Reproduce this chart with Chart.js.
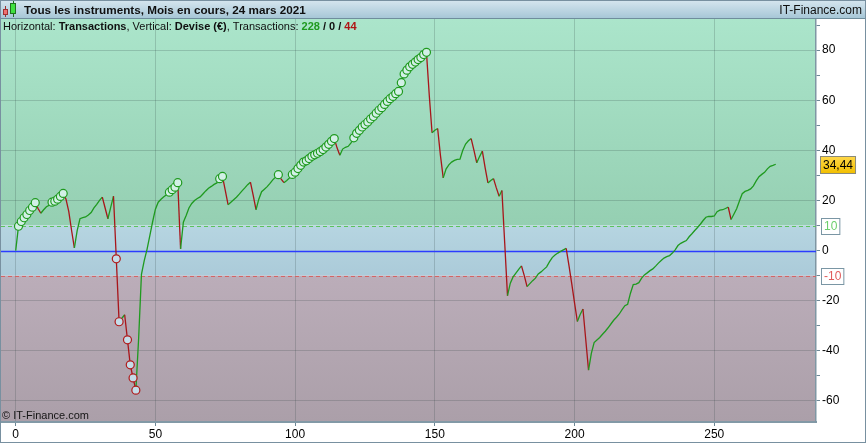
<!DOCTYPE html>
<html>
<head>
<meta charset="utf-8">
<script src="https://cdn.jsdelivr.net/npm/chart.js@4.4.1/dist/chart.umd.min.js"></script>
<style>
  html, body { margin: 0; padding: 0; background: #fff; overflow: hidden; }
  canvas { display: block; }
</style>
</head>
<body>
<canvas id="myChart" width="866" height="443"></canvas>
<script>
// DATA
// equity curve, one value per transaction (index = transaction number)
const equity = [
  0, 9.7, 11.6, 13.1, 14.4, 16, 17.3, 19.1, 16.8, 14.9,
  16.3, 17.5, 18.1, 19.3, 19.7, 20.5, 21.6, 22.8, 20.5, 15.5,
  8, 1.1, 8, 12.7, 13.1, 13.4, 14.2, 15.2, 17, 18.4,
  20, 21.3, 17, 12.7, 17.2, 21.7, -3.3, -28.4, -27, -25.6,
  -35.6, -45.6, -50.8, -55.7, -35, -9.5, -4, 0.5, 6, 11.5,
  16.5, 19.3, 20.5, 21.5, 22.3, 23.3, 24.3, 25.3, 27.1, 0.7,
  11.3, 14, 17, 18.8, 20, 20.8, 21.4, 22.6, 23.8, 24.9,
  25.6, 26.4, 27, 28.7, 29.6, 24, 18.3, 19.3, 20.3, 21.3,
  22.5, 23.8, 25, 26.3, 27.3, 22, 16.3, 20.5, 23.5, 24.5,
  25.5, 26.8, 28.2, 29.3, 30.3, 28.5, 27.1, 28, 29, 30.4,
  31.3, 32.7, 34, 35.3, 35.8, 36.7, 37.6, 38.2, 38.8, 39.5,
  40.3, 41.3, 42.4, 43.6, 44.7, 41, 38, 40.5, 41.2, 41.6,
  43, 45, 46.8, 48, 49.3, 50.3, 51.3, 52.5, 53.5, 54.8,
  56, 57, 58.3, 59.5, 60.6, 61.5, 62.6, 63.5, 67, 70.5,
  72, 73.3, 74.3, 75.2, 76.2, 77, 78.2, 79.1, 62, 47,
  48, 48.7, 38, 29, 32.5, 34.2, 35.3, 36, 36.4, 36.5,
  40, 42.5, 43.8, 44.7, 40, 35, 37.5, 39.7, 33, 27,
  28, 28.7, 25, 21.7, 24, 3, -18, -13, -10.5, -9,
  -7.5, -6.1, -10, -14.4, -13.2, -12, -11, -9.3, -8.5, -7.5,
  -6.5, -4.5, -2.8, -1.8, -1, -0.3, 0.3, 0.9, -6, -13.3,
  -21, -28.3, -25.5, -23.3, -35.5, -47.7, -41, -36.7, -35.7, -34.7,
  -33.4, -32.2, -30.8, -29.3, -27.8, -26.6, -25.3, -23.6, -22, -21.4,
  -17, -13.6, -13.4, -12.8, -11, -9.7, -8.9, -8, -7.3, -6.2,
  -5, -4, -3, -2.4, -2, -1, 0.3, 2, 2.9, 3.5,
  4, 5.5, 6.7, 8, 9.2, 10.5, 12, 13.3, 13.6, 13.6,
  13.8, 15.5, 16.1, 16.3, 16.8, 17.3, 12.4, 14.5, 16.7, 19.8,
  22.7, 23.6, 24, 24.6, 25.8, 27.8, 29.5, 30.4, 31.2, 32.6,
  33.6, 34, 34.44
];
const xTicks = [0, 50, 100, 150, 200, 250];
const yTicks = [-60, -50, -40, -30, -20, -10, 0, 10, 20, 30, 40, 50, 60, 70, 80, 90];
const yLabels = [80, 60, 40, 20, 0, -20, -40, -60];
const yGrid = [80, 60, 40, 20, -20, -40, -60];
const bandLimits = [10, -10];
const counts = [228, 0, 44];
const titleText = 'Tous les instruments, Mois en cours, 24 mars 2021';

const FONT = '"Liberation Sans", Arial, sans-serif';
const GREEN = '#1f9a1f';
const RED = '#a8151a';

// new highs / new lows get a marker
let hi = equity[0], lo = equity[0];
const markHigh = [], markLow = [];
equity.forEach(function (v, i) {
    markHigh.push(i > 0 && v > hi);
    markLow.push(i > 0 && v < lo);
    if (v > hi) hi = v;
    if (v < lo) lo = v;
});

const points = equity.map(function (v, i) { return { x: i, y: v }; });

function hline(ctx, a, y, color, dash, width) {
    ctx.save();
    ctx.strokeStyle = color;
    ctx.lineWidth = width || 1;
    ctx.setLineDash(dash || []);
    ctx.beginPath();
    ctx.moveTo(a.left, Math.round(y) + 0.5);
    ctx.lineTo(a.right, Math.round(y) + 0.5);
    ctx.stroke();
    ctx.restore();
}

function boxLabel(ctx, x, yc, text, color, fill, stroke) {
    ctx.font = '12px ' + FONT;
    const w = ctx.measureText(text).width + 5;
    const h = 16;
    const top = Math.round(yc - h / 2) + 0.5;
    ctx.fillStyle = fill;
    ctx.fillRect(x + 0.5, top, w, h);
    ctx.strokeStyle = stroke;
    ctx.lineWidth = 1;
    ctx.strokeRect(x + 0.5, top, w, h);
    ctx.fillStyle = color;
    ctx.textBaseline = 'middle';
    ctx.textAlign = 'left';
    ctx.fillText(text, x + 3, yc + 1);
}

const decorPlugin = {
    id: 'decor',
    beforeDraw(chart) {
        const ctx = chart.ctx, a = chart.chartArea, y = chart.scales.y;
        ctx.save();
        ctx.fillStyle = '#ffffff';
        ctx.fillRect(0, 0, chart.width, chart.height);

        const y10 = y.getPixelForValue(bandLimits[0]);
        const ym10 = y.getPixelForValue(bandLimits[1]);

        let g = ctx.createLinearGradient(0, a.top, 0, y10);
        g.addColorStop(0, '#abe5cb');
        g.addColorStop(1, '#95cfb2');
        ctx.fillStyle = g;
        ctx.fillRect(a.left, a.top, a.width, y10 - a.top);

        g = ctx.createLinearGradient(0, y10, 0, ym10);
        g.addColorStop(0, '#b6d5e1');
        g.addColorStop(1, '#abcbd9');
        ctx.fillStyle = g;
        ctx.fillRect(a.left, y10, a.width, ym10 - y10);

        g = ctx.createLinearGradient(0, ym10, 0, a.bottom);
        g.addColorStop(0, '#bbadb9');
        g.addColorStop(1, '#ab9fa9');
        ctx.fillStyle = g;
        ctx.fillRect(a.left, ym10, a.width, a.bottom - ym10);
        ctx.restore();
    },
    beforeDatasetsDraw(chart) {
        const ctx = chart.ctx, a = chart.chartArea, y = chart.scales.y;
        hline(ctx, a, y.getPixelForValue(bandLimits[0]), '#5cc35c', [4, 3]);
        hline(ctx, a, y.getPixelForValue(bandLimits[1]), '#d46464', [4, 3]);
        hline(ctx, a, y.getPixelForValue(0), '#2b3cff', [], 1.3);
    },
    afterDraw(chart) {
        const ctx = chart.ctx, a = chart.chartArea, y = chart.scales.y;
        ctx.save();

        // title bar
        let g = ctx.createLinearGradient(0, 0, 0, 18);
        g.addColorStop(0, '#d6e6ef');
        g.addColorStop(1, '#a7c7d7');
        ctx.fillStyle = g;
        ctx.fillRect(0, 0, chart.width, 18);
        ctx.strokeStyle = '#6f8d9c';
        ctx.lineWidth = 1;
        ctx.beginPath();
        ctx.moveTo(0, 18.5);
        ctx.lineTo(chart.width, 18.5);
        ctx.stroke();

        // little candle icon
        ctx.fillStyle = '#9a3030';
        ctx.fillRect(5, 6, 1, 11);
        ctx.fillStyle = '#f07070';
        ctx.fillRect(3, 9, 5, 6);
        ctx.strokeStyle = '#a03030';
        ctx.strokeRect(3.5, 9.5, 4, 5);
        ctx.fillStyle = '#207020';
        ctx.fillRect(13, 1, 1, 16);
        ctx.fillStyle = '#40e040';
        ctx.fillRect(10, 3, 6, 11);
        ctx.strokeStyle = '#207020';
        ctx.strokeRect(10.5, 3.5, 5, 10);

        ctx.textBaseline = 'alphabetic';
        ctx.fillStyle = '#101010';
        ctx.font = 'bold 11.7px ' + FONT;
        ctx.textAlign = 'left';
        ctx.fillText(titleText, 24, 14);
        ctx.font = '12px ' + FONT;
        ctx.textAlign = 'right';
        ctx.fillText('IT-Finance.com', 862, 14);

        // subtitle line
        const parts = [
            ['Horizontal: ', false, '#101010'],
            ['Transactions', true, '#101010'],
            [', Vertical: ', false, '#101010'],
            ['Devise (\u20ac)', true, '#101010'],
            [', Transactions: ', false, '#101010'],
            [String(counts[0]), true, GREEN],
            [' / ', true, '#101010'],
            [String(counts[1]), true, '#101010'],
            [' / ', true, '#101010'],
            [String(counts[2]), true, '#b01414']
        ];
        let x = 3;
        ctx.textAlign = 'left';
        parts.forEach(function (p) {
            ctx.font = (p[1] ? 'bold ' : '') + '11px ' + FONT;
            ctx.fillStyle = p[2];
            ctx.fillText(p[0], x, 30);
            x += ctx.measureText(p[0]).width;
        });

        // watermark
        ctx.font = '11px ' + FONT;
        ctx.fillStyle = '#151515';
        ctx.fillText('\u00a9 IT-Finance.com', 2, 419);

        // boxed band labels
        const lx = a.right + 5;
        boxLabel(ctx, lx, y.getPixelForValue(bandLimits[0]), String(bandLimits[0]), '#6ccf6c', '#ffffff', '#7a96a4');
        boxLabel(ctx, lx, y.getPixelForValue(bandLimits[1]), String(bandLimits[1]), '#e05c5c', '#ffffff', '#7a96a4');

        // last value label
        const last = equity[equity.length - 1];
        const txt = last.toFixed(2).replace('.', ',');
        const yc = y.getPixelForValue(last);
        ctx.font = '12px ' + FONT;
        const w = ctx.measureText(txt).width + 5;
        g = ctx.createLinearGradient(0, yc - 8, 0, yc + 9);
        g.addColorStop(0, '#ffd84a');
        g.addColorStop(1, '#f2bf00');
        ctx.fillStyle = g;
        ctx.fillRect(lx - 0.5, Math.round(yc - 8) + 0.5, w, 17);
        ctx.strokeStyle = '#8a8a7a';
        ctx.strokeRect(lx - 0.5, Math.round(yc - 8) + 0.5, w, 17);
        ctx.fillStyle = '#000';
        ctx.textBaseline = 'middle';
        ctx.fillText(txt, lx + 2, yc + 1);

        // outer frame
        ctx.strokeStyle = '#7890a0';
        ctx.lineWidth = 1;
        ctx.strokeRect(0.5, 0.5, chart.width - 1, chart.height - 1);
        ctx.restore();
    }
};

const config = {
    type: 'line',
    data: {
        datasets: [{
            data: points,
            borderWidth: 1.3,
            tension: 0,
            segment: {
                borderColor: function (c) {
                    return c.p1.parsed.y < c.p0.parsed.y ? RED : GREEN;
                }
            },
            borderColor: GREEN,
            pointRadius: function (c) {
                return (markHigh[c.dataIndex] || markLow[c.dataIndex]) ? 4 : 0;
            },
            pointBorderWidth: 1.2,
            pointBorderColor: function (c) {
                return markLow[c.dataIndex] ? '#b01a1a' : '#1f9a1f';
            },
            pointBackgroundColor: function (c) {
                return markLow[c.dataIndex] ? '#c4dce8' : '#d2f0e6';
            },
            pointHoverRadius: 0
        }]
    },
    options: {
        responsive: false,
        animation: false,
        devicePixelRatio: 1,
        layout: { padding: { top: 19, left: 1, right: 0, bottom: 0 } },
        plugins: {
            legend: { display: false },
            tooltip: { enabled: false },
            title: { display: false }
        },
        scales: {
            x: {
                type: 'linear',
                min: -5.26,
                max: 286.4,
                afterBuildTicks: function (s) {
                    s.ticks = xTicks.map(function (v) { return { value: v }; });
                },
                afterFit: function (s) { s.height = 21; },
                grid: {
                    color: 'rgba(40,60,60,0.2)',
                    tickColor: '#6d8796',
                    tickLength: 4,
                    drawOnChartArea: true
                },
                border: { display: true, color: '#8299a6', width: 2 },
                ticks: {
                    padding: 1,
                    color: '#000',
                    font: { family: FONT, size: 12 },
                    maxRotation: 0,
                    autoSkip: false
                }
            },
            y: {
                position: 'right',
                min: -68.4,
                max: 92.4,
                afterBuildTicks: function (s) {
                    s.ticks = yTicks.map(function (v) { return { value: v }; });
                },
                afterFit: function (s) { s.width = 50; },
                grid: {
                    color: function (c) {
                        return (c.tick && yGrid.indexOf(c.tick.value) >= 0) ? 'rgba(40,60,60,0.2)' : 'rgba(0,0,0,0)';
                    },
                    tickColor: '#6d8796',
                    tickLength: 4
                },
                border: { display: true, color: '#7f96a3', width: 1.5 },
                ticks: {
                    padding: 2,
                    color: '#000',
                    font: { family: FONT, size: 12 },
                    autoSkip: false,
                    callback: function (v) {
                        return yLabels.indexOf(v) >= 0 ? String(v) : '';
                    }
                }
            }
        }
    },
    plugins: [decorPlugin]
};

const myChart = new Chart(document.getElementById('myChart'), config);
</script>
</body>
</html>
